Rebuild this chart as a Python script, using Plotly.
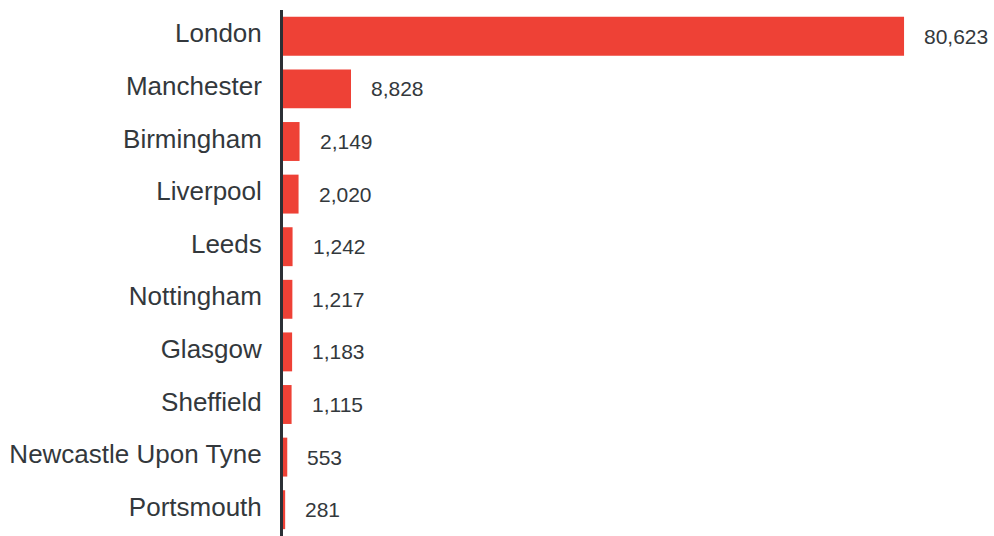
import plotly.graph_objects as go

cities = ["London", "Manchester", "Birmingham", "Liverpool", "Leeds",
          "Nottingham", "Glasgow", "Sheffield", "Newcastle Upon Tyne", "Portsmouth"]
counts = [80623, 8828, 2149, 2020, 1242, 1217, 1183, 1115, 553, 281]

BAR_COLOR = "#ee4136"
TEXT_COLOR = "#33383c"
FONT = "Liberation Sans, Arial, Helvetica, sans-serif"

fig = go.Figure(
    go.Bar(
        x=counts,
        y=cities,
        orientation="h",
        marker=dict(color=BAR_COLOR, line=dict(width=0)),
        hoverinfo="skip",
    )
)

# value labels just past the end of each bar
for city, n in zip(cities, counts):
    fig.add_annotation(
        x=n, y=city, text=f"{n:,}", showarrow=False,
        xanchor="left", yanchor="middle", xshift=18,
        font=dict(family=FONT, size=21, color=TEXT_COLOR),
    )

fig.update_layout(
    width=994, height=536,
    margin=dict(l=283, r=0, t=10, b=0),
    paper_bgcolor="white", plot_bgcolor="white",
    bargap=0.26,
    showlegend=False,
    font=dict(family=FONT, color=TEXT_COLOR),
)
fig.update_xaxes(range=[0, 92300], visible=False, showgrid=False, zeroline=False)
fig.update_yaxes(
    autorange="reversed",
    showline=True, linecolor="#2b3035", linewidth=3,
    showgrid=False, ticks="", ticklabelstandoff=13, ticklabelshift=3,
    tickfont=dict(family=FONT, size=26, color=TEXT_COLOR),
)

fig.write_html("out.html")
